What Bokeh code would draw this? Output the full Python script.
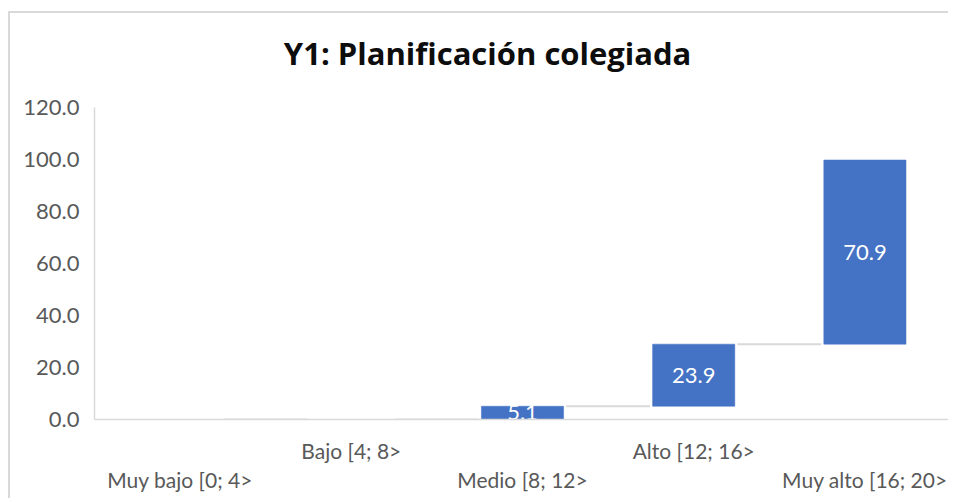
from bokeh.plotting import figure
from bokeh.models import (ColumnDataSource, FactorRange, Range1d, CategoricalAxis,
                          FixedTicker, NumeralTickFormatter, Label)
from bokeh.transform import dodge
from bokeh.embed import file_html
from bokeh.resources import INLINE

# ---- data ----
categories = ["Muy bajo [0; 4>", "Bajo [4; 8>", "Medio [8; 12>", "Alto [12; 16>", "Muy alto [16; 20>"]
values = [0.0, 0.0, 5.1, 23.9, 70.9]
y_ticks = [0, 20, 40, 60, 80, 100, 120]
title_text = "Y1: Planificación colegiada"

# waterfall cumulative positions
tops, bottoms = [], []
run = 0.0
for v in values:
    bottoms.append(run)
    run += v
    tops.append(run)

BAR = "#4472C4"
TXT = "#595959"
LINE = "#d9d9d9"
FONT = "Lato"

# layout constants (frame extends above the axis so the title can sit inside it)
Y_AXIS_MAX = 120
Y_VIEW_MAX = 153.6
TITLE_X = 2.296     # in category units (0 = left edge of the first category)
TITLE_Y = 141.1

p = figure(x_range=FactorRange(factors=categories, range_padding=0, factor_padding=0),
           y_range=Range1d(0, Y_VIEW_MAX),
           width=940, height=487, output_backend="svg", toolbar_location=None,
           x_axis_location=None, min_border_left=84, min_border_right=0,
           min_border_top=7, min_border_bottom=81)
p.styles = {"margin-left": "8px", "margin-top": "11px",
            "border-left": "2px solid #d9d9d9", "border-top": "2px solid #d9d9d9"}
p.outline_line_color = None
p.xgrid.visible = False
p.ygrid.visible = False
p.background_fill_color = "white"
p.border_fill_color = "white"

# bars
src = ColumnDataSource(dict(cat=categories, top=tops, bottom=bottoms, val=values))
p.vbar(x="cat", top="top", bottom="bottom", width=0.48, source=src,
       fill_color=BAR, line_color=BAR, line_width=0.5)

# connectors
csrc = ColumnDataSource(dict(frm=categories[:-1], to=categories[1:], y=tops[:-1]))
p.segment(x0=dodge("frm", 0.255, range=p.x_range), x1=dodge("to", -0.255, range=p.x_range),
          y0="y", y1="y", source=csrc, line_color=LINE, line_width=2)

# data labels (non-zero)
lab_cat = [c for c, v in zip(categories, values) if v != 0]
lab_y = [(t + b) / 2 for t, b, v in zip(tops, bottoms, values) if v != 0]
lab_txt = ["%.1f" % v for v in values if v != 0]
lsrc = ColumnDataSource(dict(cat=lab_cat, y=lab_y, txt=lab_txt))
p.text(x="cat", y="y", text="txt", source=lsrc, text_color="white",
       text_font={"value": FONT}, text_font_size="22px",
       text_align="center", text_baseline="middle")

# y axis
ya = p.yaxis[0]
ya.ticker = FixedTicker(ticks=y_ticks)
ya.bounds = (0, Y_AXIS_MAX)
ya.formatter = NumeralTickFormatter(format="0.0")
ya.axis_line_color = LINE
ya.axis_line_width = 1.5
ya.major_tick_line_color = None
ya.minor_tick_line_color = None
ya.major_label_text_color = TXT
ya.major_label_text_font = FONT
ya.major_label_text_font_size = "22px"
ya.major_label_standoff = 9

# x axes (staggered labels): two aligned factor ranges, blanks are distinct whitespace
upper_factors = [c if i % 2 == 1 else " " * (i + 1) for i, c in enumerate(categories)]
lower_factors = [c if i % 2 == 0 else " " * (i + 1) for i, c in enumerate(categories)]
p.extra_x_ranges = {
    "upper": FactorRange(factors=upper_factors, range_padding=0, factor_padding=0),
    "lower": FactorRange(factors=lower_factors, range_padding=0, factor_padding=0),
}
for name, standoff, line in (("upper", 12, LINE), ("lower", -5, None)):
    ax = CategoricalAxis(x_range_name=name, major_label_standoff=standoff,
                         axis_line_color=line, axis_line_width=1.5,
                         major_tick_line_color=None, minor_tick_line_color=None,
                         major_label_text_color=TXT, major_label_text_font=FONT,
                         major_label_text_font_size="21px")
    p.add_layout(ax, "below")

# title
p.add_layout(Label(x=TITLE_X, y=TITLE_Y, text=title_text,
                   text_font="Open Sans", text_font_style="bold", text_font_size="31px",
                   text_color="#0d0d0d", text_align="center", text_baseline="middle"))

open("out.html", "w").write(file_html(p, INLINE))
